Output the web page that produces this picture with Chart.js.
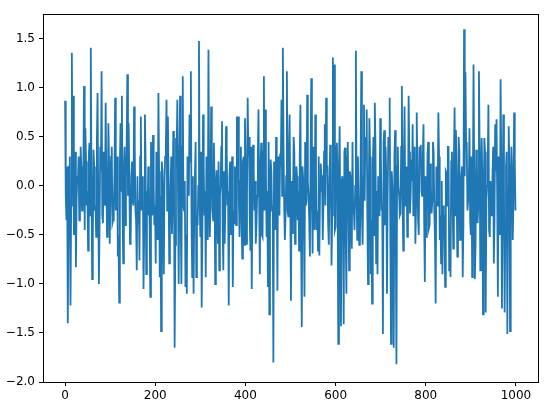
<!DOCTYPE html>
<html><head><meta charset="utf-8">
<script src="https://cdn.jsdelivr.net/npm/chart.js@4/dist/chart.umd.min.js"></script>
<style>html,body{margin:0;padding:0;background:#fff;}canvas{display:block;}</style>
</head><body>
<canvas id="c" width="551" height="412"></canvas>
<script>
// spacing (x units) between the estimated spike readings
const sampleSpacing = 3;
// spike / trough readings, one every 3 x-units starting at x=0
const seriesValues = [
 0.87,-0.35,-1.40,0.2,-1.22,1.36,0.92,-0.3,-0.83,0.1,0.3,-0.28,0.2,-0.25,1.02,0.59,-0.2,-0.66,0.44,1.41,-0.95,0.37,-0.25,-0.52,0.95,-1.0,
 0.4,1.17,-0.38,0.0,0.85,-0.52,0.64,-0.59,0.3,-0.38,-0.25,0.9,-0.1,-0.72,-1.19,0.64,0.92,-0.79,0.4,0.1,1.14,0.64,-0.59,0.1,-0.15,0.81,-0.25,-0.86,-0.38,
 -0.76,0.71,0.0,-1.05,0.73,-0.9,-0.3,0.0,-1.13,0.0,0.52,-0.4,-0.79,-0.2,0.95,-0.93,-1.48,0.16,-0.9,0.3,0.88,0.71,-0.79,0.0,-0.49,0.56,-1.65,0.49,0.88,-1.0,
 0.92,-1.0,1.12,-0.25,-1.03,-1.1,0.2,0.73,1.17,-0.93,-1.1,0.1,-0.93,-0.4,1.48,-0.52,-1.24,0.73,-0.3,-0.93,0.16,1.39,-0.52,0.81,-0.25,0.44,-1.0,
 0.16,-0.59,-0.86,0.0,0.66,-0.86,-0.59,0.61,-0.2,-1.22,0.25,-0.3,-1.03,-0.38,0.1,0.71,0.71,-0.52,0.4,-0.74,0.3,0.69,-0.59,0.9,0.5,-0.66,-1.05,0.42,-0.25,
 -0.59,-0.1,0.78,-0.9,0.44,-0.52,1.12,0.78,-0.52,-1.03,-1.31,0.27,-0.25,-1.8,-0.15,0.5,-1.07,0.1,0.33,0.88,1.41,-0.2,-0.31,1.17,-0.31,0.73,-1.17,-0.48,0.5,
 -0.59,0.2,-0.35,-0.66,0.83,-1.44,0.08,-1.13,-0.2,0.93,-0.1,-0.72,1.1,-0.69,-0.15,0.73,-0.45,-0.66,-0.71,0.23,0.1,-0.2,0.63,0.9,0.2,-0.6,0.42,-0.81,1.31,
 1.24,-0.42,0.44,-1.61,0.61,-1.43,0.1,-1.41,0.39,-1.1,0.45,-0.86,0.1,-0.64,-0.28,-0.45,1.38,-0.55,-0.2,-0.59,1.17,-0.6,0.83,0.5,0.78,-1.0,0.69,-0.9,-1.2,
 0.5,0.85,-0.79,-0.9,-0.3,0.69,-0.25,-1.51,0.57,0.4,-1.1,0.5,0.9,-1.61,0.0,-1.65,0.57,-1.82,0.4,-0.1,-0.28,1.02,-0.66,0.81,-0.1,-0.52,0.92,-0.28,
 0.27,0.63,-0.3,-0.59,0.75,-0.35,0.4,0.42,-0.1,0.63,-0.98,-0.52,0.33,-0.43,0.23,-0.28,0.45,-0.25,-1.2,-0.2,0.75,-0.55,-0.79,-0.9,-0.38,-1.03,0.13,0.4,-0.86,
 -0.93,0.35,-0.64,0.8,0.57,-0.72,0.5,-0.55,0.1,-0.93,1.6,1.16,0.4,-0.15,0.59,-0.5,-0.93,1.24,-0.95,0.37,-0.38,1.17,-0.86,0.49,-1.31,0.49,-1.29,0.0,0.83,
 -0.52,-0.3,0.1,-0.79,0.63,0.68,-1.13,-0.2,1.09,-1.25,0.73,-1.29,0.2,-1.51,0.61,-1.48,0.4,-0.55,0.75,-0.25
];
// dense central-band readings, one between each pair of spike readings
const bandValues = [
 -0.1,0.2,-0.4,0.3,-0.2,0.1,-0.5,0.35,-0.15,0.05,-0.35,0.4,-0.25,0.15,-0.45,0.25,-0.05,0.3,-0.3,0.1,-0.55,0.2,-0.2,0.45,-0.1,-0.4,0.15,-0.3,
 0.35,-0.2,0.05,-0.45,0.25,-0.15,0.4,-0.35,0.1,-0.25,0.3,-0.5,0.2,-0.05,-0.3,0.15,-0.4,0.35,-0.1,0.05,-0.55,0.25,-0.2,0.4,-0.35,0.1,-0.15,0.3,
 -0.25,0.1,-0.45,0.3,-0.05,0.2,-0.4,0.45,-0.3,0.0,-0.2,0.35,-0.55,0.15,-0.1,0.25,-0.35,0.05,0.4,-0.25,0.1,-0.45,0.3,-0.15,0.2,-0.6,0.35,-0.05,
 0.15,-0.35,0.4,-0.2,0.05,-0.5,0.3,-0.1,0.25,-0.4,0.1,-0.25,0.45,-0.3,0.0,-0.15,0.35,-0.45,0.2,-0.05,0.3,-0.55,0.15,-0.2,0.4,-0.35,0.05,-0.1,
 -0.3,0.25,-0.1,0.4,-0.45,0.15,-0.2,0.35,-0.05,0.1,-0.5,0.3,-0.25,0.2,-0.4,0.45,-0.15,0.05,-0.35,0.25,-0.6,0.1,-0.1,0.3,-0.3,0.4,-0.2,0.15,
 0.05,-0.4,0.3,-0.15,0.2,-0.5,0.35,-0.25,0.1,-0.05,0.45,-0.35,0.15,-0.2,0.25,-0.45,0.0,0.3,-0.3,0.2,-0.1,0.4,-0.55,0.1,-0.25,0.35,-0.15,0.05,
 -0.2,0.35,-0.4,0.1,-0.05,0.3,-0.5,0.2,-0.3,0.45,-0.15,0.05,-0.35,0.25,-0.1,0.4,-0.45,0.15,-0.25,0.3,-0.05,0.1,-0.55,0.35,-0.2,0.2,-0.4,0.0,
 0.25,-0.3,0.1,-0.45,0.4,-0.1,0.2,-0.35,0.05,-0.2,0.35,-0.5,0.3,-0.15,0.15,-0.4,0.45,-0.25,0.0,-0.05,0.3,-0.6,0.2,-0.3,0.1,-0.15,0.4,-0.35,
 -0.15,0.3,-0.35,0.2,-0.5,0.4,-0.05,0.1,-0.3,0.25,-0.2,0.45,-0.4,0.05,-0.1,0.35,-0.55,0.15,-0.25,0.3,-0.45,0.2,0.0,-0.3,0.4,-0.1,0.15,-0.2,
 0.2,-0.45,0.35,-0.1,0.05,-0.3,0.4,-0.2,0.15,-0.5,0.25,-0.05,0.3,-0.35,0.1,-0.25,0.45,-0.4,0.0,-0.15,0.35,-0.55,0.2,-0.1,0.3,-0.3,0.05,-0.2,
 -0.35,0.15,-0.2,0.4,-0.45,0.25,-0.1,0.3,-0.3,0.05,-0.5,0.35,-0.15,0.2,-0.4,0.1,0.45,-0.25,0.0,-0.35,0.3,-0.05,0.15,-0.6,0.25,-0.2,0.4,-0.1,
 0.1,-0.3,0.35,-0.15,0.2,-0.45,0.05,-0.25,0.4,-0.35,0.15,-0.1,0.3,-0.5,0.25,-0.2,0.0,-0.4,0.35,-0.05,0.2,-0.3,0.1,-0.15,0.25
];
const xTickValues = [0, 200, 400, 600, 800, 1000];
const yTickValues = [-2.0, -1.5, -1.0, -0.5, 0.0, 0.5, 1.0, 1.5];

const points = [];
for (let i = 0; i < seriesValues.length; i++) {
  points.push({x: i * sampleSpacing, y: seriesValues[i]});
  if (i < bandValues.length && i < seriesValues.length - 1) {
    points.push({x: i * sampleSpacing + sampleSpacing / 2, y: bandValues[i]});
  }
}

const frame = {
  id: 'frame',
  afterDatasetsDraw(chart) {
    const {ctx, chartArea: a} = chart;
    ctx.save();
    ctx.strokeStyle = '#000';
    ctx.lineWidth = 1;
    ctx.strokeRect(Math.round(a.left) + 0.5, Math.round(a.top) + 0.5,
                   Math.round(a.right - a.left), Math.round(a.bottom - a.top));
    ctx.restore();
  }
};

const tickFont = {family: 'DejaVu Sans', size: 12};
const fmtY = v => (v < 0 ? '\u2212' : '') + Math.abs(v).toFixed(1);

new Chart(document.getElementById('c').getContext('2d'), {
  type: 'line',
  data: {datasets: [{data: points, borderColor: '#1f77b4', borderWidth: 1.8,
    pointRadius: 0, fill: false, tension: 0}]},
  options: {
    responsive: false, animation: false, devicePixelRatio: 1,
    layout: {padding: {top: 14, right: 13, left: 0, bottom: 0}},
    plugins: {legend: {display: false}, tooltip: {enabled: false}},
    scales: {
      x: {
        type: 'linear', min: -49, max: 1049,
        afterBuildTicks: s => { s.ticks = xTickValues.map(v => ({value: v})); },
        afterFit: s => { s.height = 30; },
        grid: {drawOnChartArea: false, drawTicks: true, tickLength: 4, color: '#000', tickWidth: 1},
        border: {display: false},
        ticks: {padding: 3, color: '#000', font: tickFont, maxRotation: 0, autoSkip: false,
          callback: v => String(v)}
      },
      y: {
        type: 'linear', min: -2.0, max: 1.755,
        afterBuildTicks: s => { s.ticks = yTickValues.map(v => ({value: v})); },
        afterFit: s => { s.width = 43; },
        grid: {drawOnChartArea: false, drawTicks: true, tickLength: 4, color: '#000', tickWidth: 1},
        border: {display: false},
        ticks: {padding: 4, color: '#000', font: tickFont, autoSkip: false, callback: fmtY}
      }
    }
  },
  plugins: [frame]
});
</script>
</body></html>
